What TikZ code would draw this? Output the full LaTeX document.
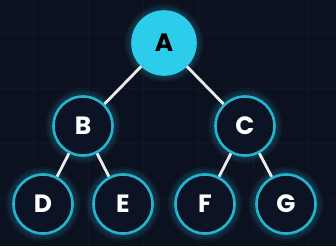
\documentclass[tikz,border=0pt]{standalone}
\usepackage{fontspec}
\setmainfont{Poppins}
\usepackage{tikz}
\usetikzlibrary{positioning}
\definecolor{bgnavy}{HTML}{0C1120}
\definecolor{gridline}{HTML}{111726}
\definecolor{treecyan}{HTML}{2BCDEA}
\definecolor{ringcyan}{HTML}{25B4CF}
\definecolor{nodefill}{HTML}{0B1324}
\tikzset{
  treenode/.style={circle, draw=ringcyan, line width=2.6pt, fill=nodefill,
                   minimum size=59pt, inner sep=0pt, text=white,
                   font=\fontsize{25}{27}\selectfont\bfseries},
  rootnode/.style={treenode, fill=treecyan, draw=treecyan, text=black,
                   minimum size=63pt},
  glow/.style={draw=ringcyan, line width=#1, opacity=0.08},
  treeedge/.style={draw=white!92!black, line width=2.8pt},
}
\begin{document}
\begin{tikzpicture}[x=1pt, y=-1pt]
    \fill[bgnavy] (0,0) rectangle (336,246);
    \useasboundingbox (0,0) rectangle (336,246);
    \foreach \gx in {33,88,143,198,253,308}
      \draw[gridline, line width=0.6pt] (\gx,0) -- (\gx,246);
    \foreach \gy in {33,88,143,198}
      \draw[gridline, line width=0.6pt] (0,\gy) -- (336,\gy);
    % glow rings
    \foreach \cx/\cy/\r in {164/43/32,83/126/30,245/126/30,43/204/30,123/204/30,205/204/30,286/204/30}{
      \foreach \w in {6,10,14}
        \draw[glow=\w pt] (\cx,\cy) circle (\r);
    }
    \node[rootnode] (a) at (164,43)  {A};
    \node[treenode] (b) at (83,126)  {B};
    \node[treenode] (c) at (245,126) {C};
    \node[treenode] (d) at (43,204)  {D};
    \node[treenode] (e) at (123,204) {E};
    \node[treenode] (f) at (205,204) {F};
    \node[treenode] (g) at (286,204) {G};
    \draw[treeedge] (a) -- (b);
    \draw[treeedge] (a) -- (c);
    \draw[treeedge] (b) -- (d);
    \draw[treeedge] (b) -- (e);
    \draw[treeedge] (c) -- (f);
    \draw[treeedge] (c) -- (g);
\end{tikzpicture}
\end{document}
